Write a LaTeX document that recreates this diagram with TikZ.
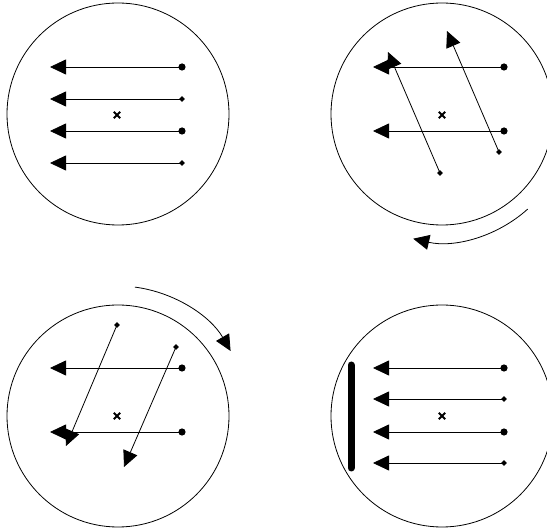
\documentclass[tikz,border=0pt]{standalone}
\usetikzlibrary{arrows.meta}
\begin{document}
\begin{tikzpicture}[x=1pt,y=-1pt,
  disc/.style={draw=black,line width=0.8pt},
  vec/.style={draw=black,line width=0.8pt,-{Triangle[length=16pt,width=15pt]}},
  rot/.style={draw=black,line width=0.8pt,-{Triangle[length=16pt,width=15pt]}},
  rdot/.style={fill=black},
  ddot/.style={fill=black},
  bar/.style={draw=black,line width=7pt,line cap=round}]
\useasboundingbox (0,0) rectangle (547,529);
\clip (0,0) rectangle (547,529);
\newcommand{\roundend}[1]{\fill[rdot] (#1) circle[radius=3.6];}
\newcommand{\diamondend}[1]{\fill[ddot] (#1) ++(2.8,0) -- ++(-2.8,-2.8) -- ++(-2.8,2.8) -- ++(2.8,2.8) -- cycle;}
\newcommand{\centremark}[1]{\draw[line width=2pt] (#1) ++(-3.2,-3.2) -- ++(6.4,6.4) (#1) ++(-3.2,3.2) -- ++(6.4,-6.4);}
% centres
\coordinate (c1) at (118,114);
\coordinate (c2) at (442,114);
\coordinate (c3) at (118,416);
\coordinate (c4) at (442,416);
\foreach \c in {c1,c2,c3,c4} {\draw[disc] (\c) circle[radius=111];}
\centremark{117,115}
\centremark{442,115}
\centremark{117,416}
\centremark{442,416}
% panel 1
\coordinate (a1s) at (182,67);  \coordinate (a1t) at (50,67);
\coordinate (a2s) at (182,99);  \coordinate (a2t) at (50,99);
\coordinate (a3s) at (182,131); \coordinate (a3t) at (50,131);
\coordinate (a4s) at (182,163); \coordinate (a4t) at (50,163);
\draw[vec] (a1s) -- (a1t); \roundend{a1s}
\draw[vec] (a2s) -- (a2t); \diamondend{a2s}
\draw[vec] (a3s) -- (a3t); \roundend{a3s}
\draw[vec] (a4s) -- (a4t); \diamondend{a4s}
% panel 2
\coordinate (b1s) at (504,67);  \coordinate (b1t) at (373,67);
\coordinate (b3s) at (504,131); \coordinate (b3t) at (373,131);
\coordinate (b2s) at (440,173); \coordinate (b2t) at (388,52);
\coordinate (b4s) at (499,152); \coordinate (b4t) at (447,31);
\draw[vec] (b1s) -- (b1t); \roundend{b1s}
\draw[vec] (b3s) -- (b3t); \roundend{b3s}
\draw[rot] (b2s) -- (b2t); \diamondend{b2s}
\draw[rot] (b4s) -- (b4t); \diamondend{b4s}
\draw[rot] (c2) ++(48:128) arc[start angle=48,end angle=103,radius=128];
% panel 3
\coordinate (d1s) at (182,368); \coordinate (d1t) at (50,368);
\coordinate (d3s) at (182,432); \coordinate (d3t) at (50,432);
\coordinate (d2s) at (117,325); \coordinate (d2t) at (66,446);
\coordinate (d4s) at (176,347); \coordinate (d4t) at (124,467);
\draw[vec] (d1s) -- (d1t); \roundend{d1s}
\draw[vec] (d3s) -- (d3t); \roundend{d3s}
\draw[rot] (d2s) -- (d2t); \diamondend{d2s}
\draw[rot] (d4s) -- (d4t); \diamondend{d4s}
\draw[rot] (c3) ++(-82.5:130) arc[start angle=-82.5,end angle=-30,radius=130];
% panel 4
\coordinate (e1s) at (504,368); \coordinate (e1t) at (373,368);
\coordinate (e2s) at (504,399); \coordinate (e2t) at (373,399);
\coordinate (e3s) at (504,432); \coordinate (e3t) at (373,432);
\coordinate (e4s) at (504,463); \coordinate (e4t) at (373,463);
\draw[vec] (e1s) -- (e1t); \roundend{e1s}
\draw[vec] (e2s) -- (e2t); \diamondend{e2s}
\draw[vec] (e3s) -- (e3t); \roundend{e3s}
\draw[vec] (e4s) -- (e4t); \diamondend{e4s}
\coordinate (w1) at (351,365); \coordinate (w2) at (351,468);
\draw[bar] (w1) -- (w2);
\end{tikzpicture}
\end{document}
